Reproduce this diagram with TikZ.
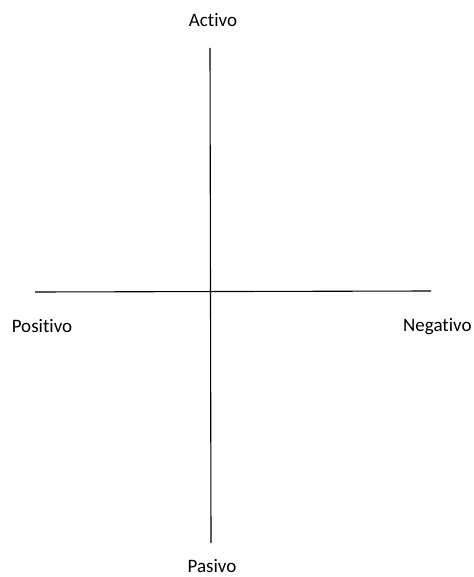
\documentclass[tikz,border=0pt]{standalone}
\usepackage{fontspec}
\setmainfont[Ligatures=NoCommon]{Carlito}
\usetikzlibrary{positioning}

\begin{document}
\begin{tikzpicture}[x=1pt, y=-1pt,
  lbl/.style={font=\fontsize{19}{21}\selectfont, inner sep=0pt},
  axis/.style={line width=1.1pt}]
  \useasboundingbox (0,0) rectangle (473,577);
  \coordinate (top) at (210,48);
  \coordinate (bot) at (211,543);
  \coordinate (left) at (35,292);
  \coordinate (right) at (431,291);
  \draw[axis] (top) -- (bot);
  \draw[axis] (left) -- (right);
  \node[lbl] (activo) at (213,20) {Activo};
  \node[lbl] (positivo) at (42,326) {Positivo};
  \node[lbl, anchor=west] (negativo) at (403,327) {Negativo};
  \node[lbl] (pasivo) at (212,566) {Pasivo};
\end{tikzpicture}
\end{document}
